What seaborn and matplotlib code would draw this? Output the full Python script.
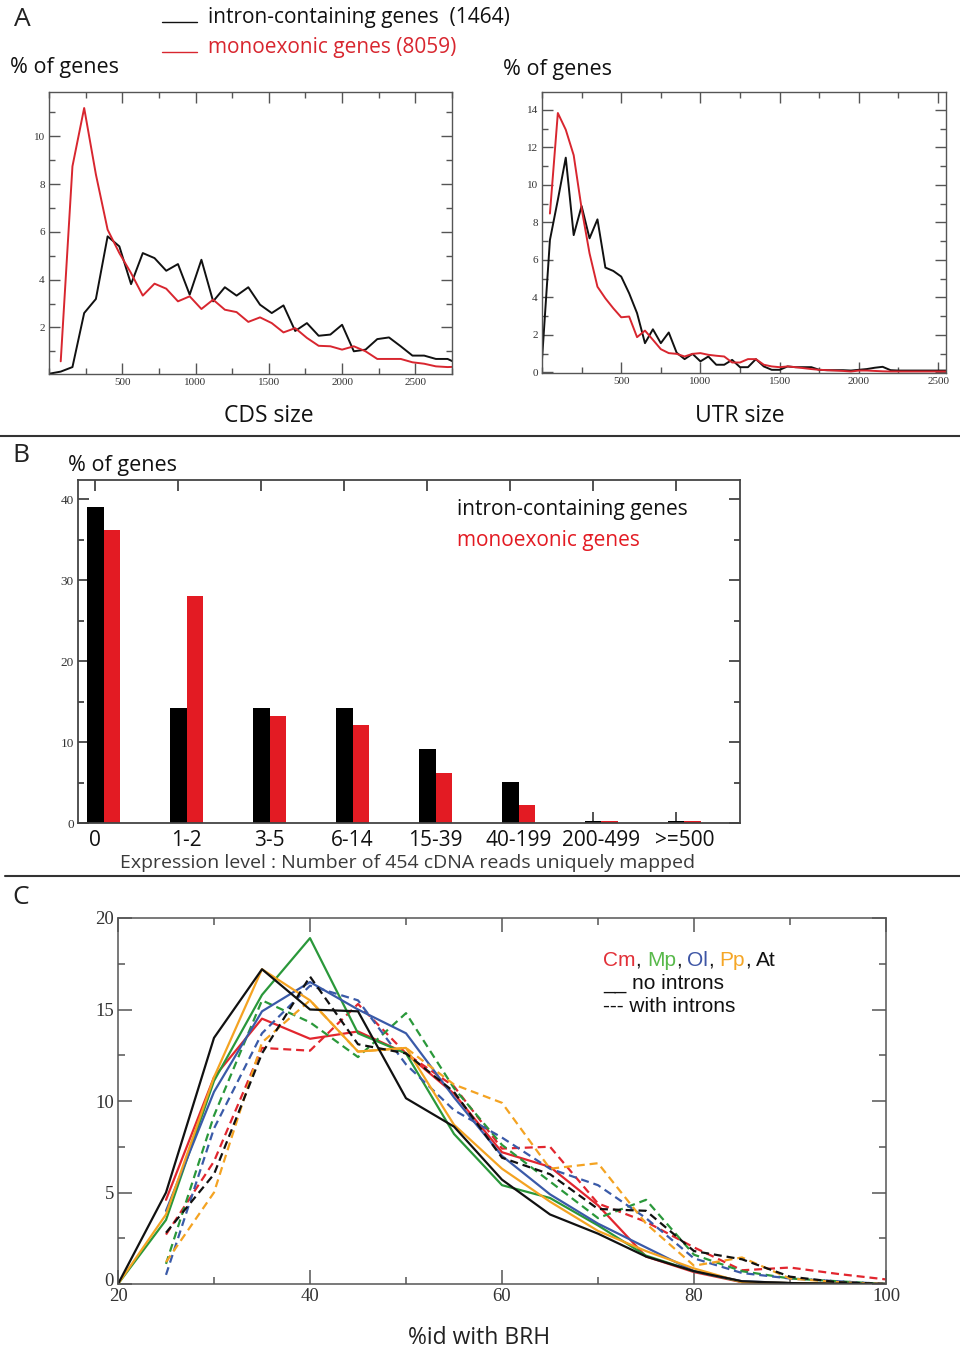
import matplotlib
matplotlib.use("Agg")
import numpy as np
import pandas as pd
import seaborn as sns
import matplotlib.pyplot as plt
from matplotlib.lines import Line2D
from matplotlib.ticker import MultipleLocator
from matplotlib.transforms import ScaledTranslation

# ---------------- data ----------------
# Panel A, left: CDS size distribution (% of genes per 80 bp bin)
cds_size_intron = [0, 80, 160, 240, 320, 400, 480, 560, 640, 720, 800, 880, 960, 1040,
                   1120, 1200, 1280, 1360, 1440, 1520, 1600, 1680, 1760, 1840, 1920, 2000,
                   2080, 2160, 2240, 2320, 2400, 2480, 2560, 2640, 2720, 2800]
cds_pct_intron = [0.06, 0.15, 0.34, 2.6, 3.19, 5.81, 5.39, 3.81, 5.11, 4.9, 4.37, 4.65, 3.37,
                  4.83, 3.09, 3.68, 3.33, 3.68, 2.95, 2.6, 2.92, 1.85, 2.18, 1.65, 1.7, 2.11,
                  1.0, 1.07, 1.51, 1.58, 1.21, 0.82, 0.82, 0.68, 0.68, 0.45]
cds_size_mono = cds_size_intron[1:]
cds_pct_mono = [0.58, 8.74, 11.18, 8.4, 6.09, 5.11, 4.27, 3.33, 3.83, 3.62, 3.09, 3.3, 2.77,
                3.16, 2.74, 2.64, 2.23, 2.42, 2.18, 1.79, 1.97, 1.56, 1.23, 1.21, 1.07, 1.21,
                1.0, 0.68, 0.68, 0.68, 0.54, 0.48, 0.37, 0.34, 0.36]

# Panel A, right: UTR size distribution (% of genes per 50 bp bin)
utr_size_intron = list(range(0, 2551, 50))
utr_pct_intron = [0.67, 7.06, 9.2, 11.45, 7.32, 8.87, 7.15, 8.16, 5.59, 5.41, 5.11, 4.22, 3.16,
                  1.56, 2.3, 1.56, 2.13, 1.05, 0.71, 0.99, 0.59, 0.85, 0.41, 0.41, 0.67, 0.28,
                  0.28, 0.71, 0.32, 0.14, 0.14, 0.32, 0.28, 0.28, 0.28, 0.14, 0.12, 0.12, 0.12,
                  0.1, 0.14, 0.18, 0.25, 0.3, 0.12, 0.1, 0.1, 0.1, 0.1, 0.1, 0.1, 0.1]
utr_size_mono = utr_size_intron[1:]
utr_pct_mono = [8.47, 13.83, 12.94, 11.58, 8.74, 6.35, 4.57, 3.95, 3.42, 2.94, 2.98, 1.88, 2.23,
                1.74, 1.24, 1.03, 0.99, 0.85, 0.99, 1.03, 0.94, 0.89, 0.85, 0.53, 0.53, 0.71,
                0.71, 0.41, 0.32, 0.28, 0.32, 0.28, 0.23, 0.18, 0.14, 0.12, 0.1, 0.08, 0.05,
                0.1, 0.1, 0.08, 0.06, 0.05, 0.05, 0.05, 0.05, 0.05, 0.05, 0.05, 0.05]

# Panel B: expression classes
expr_levels = ["0", "1-2", "3-5", "6-14", "15-39", "40-199", "200-499", ">=500"]
expr_intron = [39.1, 14.2, 14.2, 14.2, 9.1, 5.1, 0.2, 0.2]
expr_mono = [36.2, 28.1, 13.2, 12.1, 6.2, 2.2, 0.2, 0.2]

# Panel C: % identity with best reciprocal hit
pid = [20, 25, 30, 35, 40, 45, 50, 55, 60, 65, 70, 75, 80, 85, 90, 95, 100]
nan = np.nan
cm_no = [nan, 4.6, 11.3, 14.5, 13.4, 13.8, 12.6, 10.4, 7.2, 6.4, 4.3, 1.5, 0.65, 0.1, 0.05, 0.0, 0.0]
mp_no = [0.0, 3.5, 11.1, 15.8, 18.9, 13.7, 12.6, 8.2, 5.4, 4.7, 3.2, 1.55, 0.7, 0.12, 0.05, 0.0, 0.0]
ol_no = [nan, 4.0, 10.5, 14.9, 16.5, 15.0, 13.7, 10.2, 7.0, 4.9, 3.3, 2.0, 0.7, 0.15, 0.05, 0.0, 0.0]
pp_no = [0.0, 3.8, 11.3, 17.2, 15.5, 12.7, 12.9, 8.7, 6.3, 4.5, 2.9, 1.8, 0.85, 0.1, 0.05, 0.0, 0.0]
at_no = [0.0, 5.0, 13.45, 17.2, 15.0, 14.9, 10.15, 8.6, 5.7, 3.8, 2.75, 1.5, 0.7, 0.15, 0.05, 0.02, 0.0]
cm_in = [nan, 2.7, 6.7, 12.9, 12.75, 15.3, 12.6, 10.8, 7.4, 7.5, 4.4, 3.4, 2.0, 0.75, 0.9, 0.55, 0.25]
mp_in = [nan, 1.1, 9.2, 15.5, 14.3, 12.4, 14.8, 10.7, 7.6, 5.6, 3.6, 4.6, 1.6, 0.7, 0.3, 0.15, 0.0]
ol_in = [nan, 0.5, 8.5, 13.7, 16.3, 15.5, 12.0, 9.5, 8.0, 6.3, 5.4, 3.6, 1.4, 0.6, 0.3, 0.15, 0.0]
pp_in = [nan, 1.2, 5.0, 13.2, 15.5, 12.7, 12.9, 10.9, 9.9, 6.3, 6.6, 3.3, 1.0, 1.45, 0.3, 0.1, 0.0]
at_in = [nan, 2.8, 6.0, 12.6, 16.8, 13.1, 12.6, 10.5, 6.9, 6.0, 4.1, 4.0, 1.8, 1.35, 0.4, 0.1, 0.0]

species = ["Cm", "Mp", "Ol", "Pp", "At"]
species_colors = ["#e2262e", "#2a983a", "#3a5aa8", "#f4a322", "#111111"]
legend_colors = ["#e23038", "#58b94a", "#3d55a5", "#f5a626", "#111111"]

# ---------------- figure setup ----------------
sns.set_theme(style="white")
plt.rcParams["font.family"] = ["Open Sans", "DejaVu Sans"]

W, H = 960, 1351
fig = plt.figure(figsize=(W / 100, H / 100), dpi=100)


def fx(px):
    return px / W


def fy(py):
    return 1 - py / H


def box(x0, y0, x1, y1):
    return [x0 / W, 1 - y1 / H, (x1 - x0) / W, (y1 - y0) / H]


def style_axes(ax, lw, major, minor, labelsize, spine_color="#555555"):
    for s in ax.spines.values():
        s.set_color(spine_color)
        s.set_linewidth(lw)
        s.set_visible(True)
    ax.tick_params(which="both", direction="in", top=True, right=True, bottom=True,
                   left=True, color=spine_color, width=lw)
    ax.tick_params(which="major", length=major, labelsize=labelsize,
                   labelcolor="#333333", pad=3)
    ax.tick_params(which="minor", length=minor)
    ax.set_xlabel("")
    ax.set_ylabel("")
    ax.grid(False)


def serif_labels(ax, which="both"):
    labs = []
    if which in ("both", "x"):
        labs += ax.get_xticklabels()
    if which in ("both", "y"):
        labs += ax.get_yticklabels()
    for lab in labs:
        lab.set_family("Liberation Serif")


def hline(x0, x1, y, color, lw):
    fig.add_artist(Line2D([fx(x0), fx(x1)], [fy(y), fy(y)], transform=fig.transFigure,
                          color=color, linewidth=lw))


red_a = "#d8262f"
txt = "#111111"

# ---------------- panel A ----------------
cds = pd.concat([
    pd.DataFrame({"size": cds_size_intron, "pct": cds_pct_intron, "kind": "intron"}),
    pd.DataFrame({"size": cds_size_mono, "pct": cds_pct_mono, "kind": "mono"}),
])
utr = pd.concat([
    pd.DataFrame({"size": utr_size_intron, "pct": utr_pct_intron, "kind": "intron"}),
    pd.DataFrame({"size": utr_size_mono, "pct": utr_pct_mono, "kind": "mono"}),
])
pal_a = {"intron": "#111111", "mono": red_a}

ax1 = fig.add_axes(box(49, 92, 452, 374))
sns.lineplot(data=cds, x="size", y="pct", hue="kind", palette=pal_a, estimator=None,
             linewidth=1.4, legend=False, ax=ax1)
ax1.set_xlim(0, 2750)
ax1.set_ylim(0.05, 11.85)
ax1.set_xticks([500, 1000, 1500, 2000, 2500])
ax1.xaxis.set_minor_locator(MultipleLocator(250))
ax1.set_yticks([2, 4, 6, 8, 10])
ax1.yaxis.set_minor_locator(MultipleLocator(1))
style_axes(ax1, 1.0, 8, 4, 8)
serif_labels(ax1)

ax2 = fig.add_axes(box(542, 92, 946, 373))
sns.lineplot(data=utr, x="size", y="pct", hue="kind", palette=pal_a, estimator=None,
             linewidth=1.4, legend=False, ax=ax2)
ax2.set_xlim(0, 2550)
ax2.set_ylim(-0.03, 14.95)
ax2.set_xticks([500, 1000, 1500, 2000, 2500])
ax2.xaxis.set_minor_locator(MultipleLocator(250))
ax2.set_yticks(np.arange(0, 15, 2))
ax2.yaxis.set_minor_locator(MultipleLocator(1))
style_axes(ax2, 1.0, 8, 4, 8)
serif_labels(ax2)

fig.text(fx(14), fy(19), "A", fontsize=19, va="center", ha="left", color="#222222")
hline(162, 197, 22, "#111111", 1.0)
hline(162, 197, 52, red_a, 1.0)
fig.text(fx(208), fy(18), "intron-containing genes  (1464)", fontsize=15, va="center",
         ha="left", color=txt)
fig.text(fx(208), fy(48), "monoexonic genes (8059)", fontsize=15, va="center",
         ha="left", color=red_a)
fig.text(fx(10), fy(67), "% of genes", fontsize=15.5, va="center", ha="left", color=txt)
fig.text(fx(503), fy(70), "% of genes", fontsize=15.5, va="center", ha="left", color=txt)
fig.text(fx(269), fy(416), "CDS size", fontsize=16.5, va="center", ha="center", color=txt)
fig.text(fx(740), fy(416), "UTR size", fontsize=16.5, va="center", ha="center", color=txt)

hline(0, 960, 436, "#333333", 1.5)

# ---------------- panel B ----------------
expr = pd.concat([
    pd.DataFrame({"level": expr_levels, "pct": expr_intron, "kind": "intron"}),
    pd.DataFrame({"level": expr_levels, "pct": expr_mono, "kind": "mono"}),
])
axb = fig.add_axes(box(78, 480, 740, 823))
axb.set_axisbelow(True)
sns.barplot(data=expr, x="level", y="pct", hue="kind", order=expr_levels,
            palette={"intron": "#000000", "mono": "#e31b23"}, width=0.4, gap=0,
            saturation=1, errorbar=None, legend=False, linewidth=0, ax=axb)
axb.set_xlim(-0.31, 7.67)
axb.set_ylim(0, 42.4)
axb.set_yticks([0, 10, 20, 30, 40])
axb.yaxis.set_minor_locator(MultipleLocator(5))
style_axes(axb, 1.3, 8, 4, 9.5, spine_color="#444444")
# tick marks sit just left of each group; labels centred under the groups
axb.xaxis.remove_overlapping_locs = False
axb.set_xticks(np.arange(len(expr_levels)) - 0.1, labels=[""] * len(expr_levels))
label_pos = [-0.1] + list(range(1, len(expr_levels)))
axb.set_xticks(label_pos, labels=expr_levels, minor=True)
axb.tick_params(axis="x", which="minor", length=0, labelsize=15, labelcolor=txt, pad=5)
axb.tick_params(axis="x", which="major", length=8)
serif_labels(axb, "y")

fig.text(fx(12), fy(455), "B", fontsize=19, va="center", ha="left", color="#222222")
fig.text(fx(68), fy(466), "% of genes", fontsize=15.5, va="center", ha="left", color=txt)
fig.text(fx(457), fy(510), "intron-containing genes", fontsize=15, va="center",
         ha="left", color=txt)
fig.text(fx(457), fy(540), "monoexonic genes", fontsize=15, va="center",
         ha="left", color="#e31b23")
fig.text(fx(408), fy(863), "Expression level : Number of 454 cDNA reads uniquely mapped",
         fontsize=14, va="center", ha="center", color="#3a3a3a")

hline(5, 960, 876, "#333333", 1.5)

# ---------------- panel C ----------------
no_series = [cm_no, mp_no, ol_no, pp_no, at_no]
in_series = [cm_in, mp_in, ol_in, pp_in, at_in]
frames = []
for sp, vals in zip(species, no_series):
    frames.append(pd.DataFrame({"pid": pid, "pct": vals, "species": sp, "introns": "no introns"}))
for sp, vals in zip(species, in_series):
    frames.append(pd.DataFrame({"pid": pid, "pct": vals, "species": sp, "introns": "with introns"}))
brh = pd.concat(frames).dropna()

axc = fig.add_axes(box(118, 918, 886, 1284))
sns.lineplot(data=brh, x="pid", y="pct", hue="species", style="introns",
             hue_order=species, palette=dict(zip(species, species_colors)),
             dashes={"no introns": "", "with introns": (3.6, 2.2)},
             estimator=None, linewidth=1.6, legend=False, ax=axc)
axc.set_xlim(20, 100)
axc.set_ylim(0, 20)
axc.set_xticks([20, 40, 60, 80, 100])
axc.xaxis.set_minor_locator(MultipleLocator(10))
axc.set_yticks([0, 5, 10, 15, 20])
axc.yaxis.set_minor_locator(MultipleLocator(2.5))
style_axes(axc, 1.1, 10, 5, 13.5)
axc.tick_params(axis="x", which="major", pad=3)
serif_labels(axc)
# lift the "0" on the y axis a little so it clears the "20" below the corner
ylab0 = axc.get_yticklabels()[0]
ylab0.set_transform(ylab0.get_transform() + ScaledTranslation(0, 4 / 100, fig.dpi_scale_trans))

fig.text(fx(12), fy(898), "C", fontsize=19, va="center", ha="left", color="#222222")
fig.text(fx(479), fy(1338), "%id with BRH", fontsize=16.5, va="center", ha="center",
         color="#222222")

# multi-coloured species key
renderer = fig.canvas.get_renderer()
key_font = dict(fontsize=15, va="center", ha="left", family=["Liberation Sans", "DejaVu Sans"])


def text_width(s):
    probe = fig.text(0, 0, s + "|", **key_font)
    bar = fig.text(0, 0, "|", **key_font)
    w = probe.get_window_extent(renderer).width - bar.get_window_extent(renderer).width
    probe.remove()
    bar.remove()
    return w


x_cur = 603.0
for i, (sp, col) in enumerate(zip(species, legend_colors)):
    fig.text(fx(x_cur), fy(960), sp, color=col, **key_font)
    x_cur += text_width(sp)
    if i < len(species) - 1:
        fig.text(fx(x_cur), fy(960), ",", color=txt, **key_font)
        x_cur += text_width(", ")
fig.text(fx(603), fy(983), "__ no introns", color=txt, **key_font)
fig.text(fx(603), fy(1006), "--- with introns", color=txt, **key_font)

fig.savefig("out.png", dpi=100)
